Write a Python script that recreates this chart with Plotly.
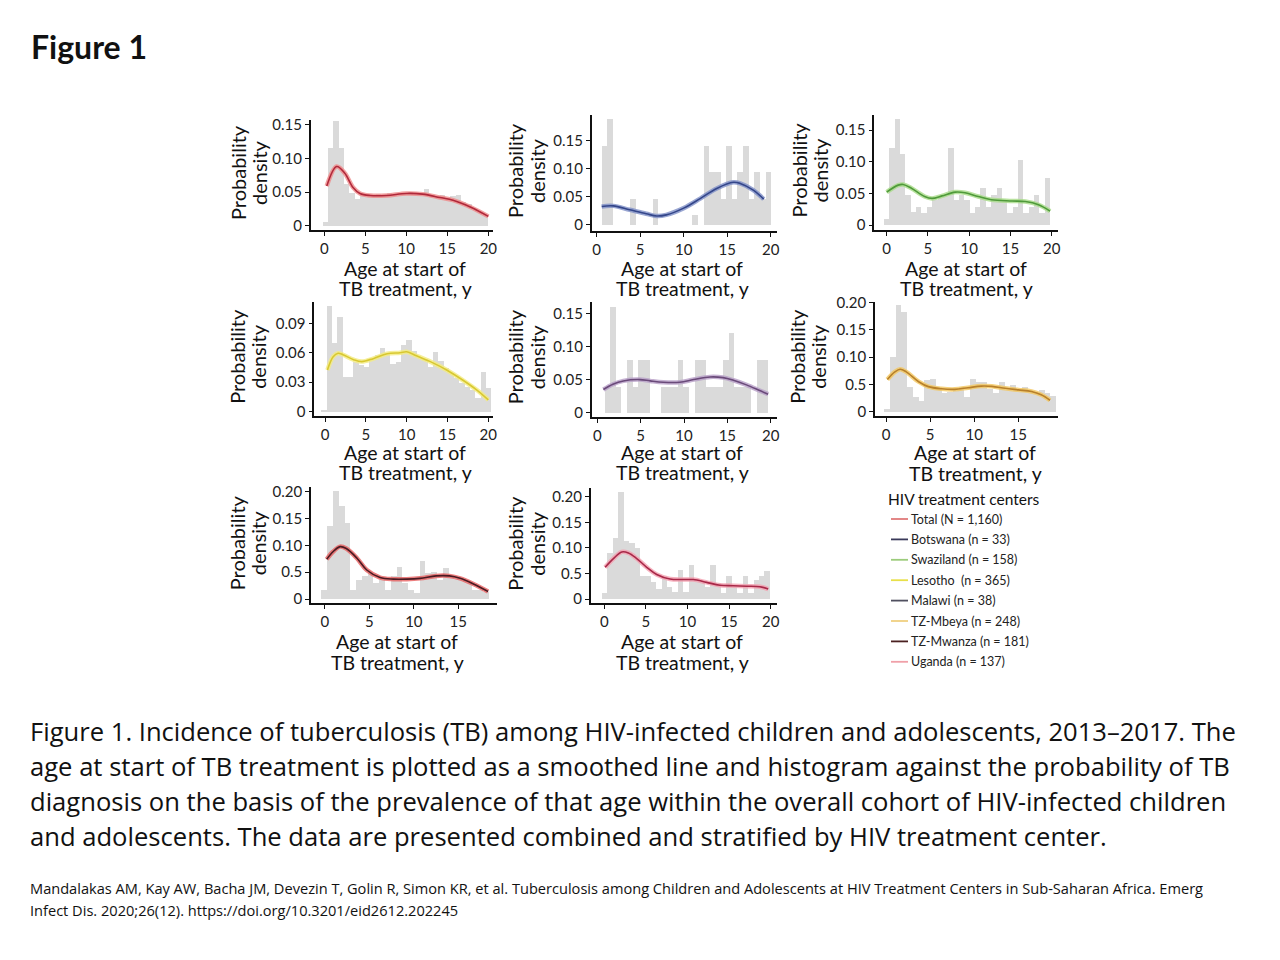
import plotly.graph_objects as go

# ---------------- DATA ----------------
BIN_WIDTH = 0.65

total_bin_start = -0.25
total_hist = [0.006, 0.115, 0.156, 0.115, 0.062, 0.048, 0.040, 0.045, 0.046, 0.045, 0.047,
              0.044, 0.048, 0.046, 0.049, 0.047, 0.050, 0.046, 0.047, 0.054, 0.046, 0.044,
              0.046, 0.041, 0.044, 0.046, 0.036, 0.032, 0.027, 0.020, 0.016]
total_curve_x = [0.3, 1.5, 2.5, 3.5, 4.35, 5.6, 7.6, 10.0, 12.0, 14.1, 15.7, 17.8, 20.0]
total_curve_y = [0.059, 0.088, 0.078, 0.057, 0.048, 0.045, 0.045, 0.048, 0.047, 0.042, 0.038, 0.028, 0.014]

botswana_bin_start = 0.55
botswana_hist = [0.141, 0.188, 0, 0, 0, 0.047, 0, 0, 0, 0.047, 0, 0, 0, 0, 0, 0, 0.018, 0,
                 0.141, 0.094, 0.094, 0.047, 0.141, 0.047, 0.094, 0.141, 0.047, 0.094, 0.047, 0.094]
botswana_curve_x = [0.58, 1.9, 3.8, 5.7, 6.9, 8.0, 10.0, 11.9, 13.8, 15.7, 16.5, 18.0, 19.2]
botswana_curve_y = [0.033, 0.034, 0.027, 0.020, 0.016, 0.018, 0.030, 0.047, 0.065, 0.076, 0.074, 0.062, 0.046]

swaziland_bin_start = -0.3
swaziland_hist = [0.010, 0.121, 0.168, 0.112, 0.048, 0.021, 0.029, 0.019, 0.029, 0.039, 0.044,
                  0.048, 0.121, 0.039, 0.048, 0.039, 0.019, 0.029, 0.058, 0.029, 0.048, 0.058,
                  0.039, 0.019, 0.029, 0.102, 0.019, 0.029, 0.048, 0.019, 0.075]
swaziland_curve_x = [0.0, 1.4, 2.0, 3.0, 4.6, 5.5, 6.7, 8.3, 9.5, 11.1, 12.7, 15.2, 16.8, 18.4, 19.8]
swaziland_curve_y = [0.052, 0.063, 0.064, 0.058, 0.045, 0.042, 0.046, 0.052, 0.051, 0.045, 0.040,
                     0.038, 0.037, 0.032, 0.022]

lesotho_bin_start = -0.4
lesotho_hist = [0.002, 0.108, 0.070, 0.097, 0.036, 0.036, 0.051, 0.048, 0.046, 0.055, 0.058,
                0.065, 0.060, 0.049, 0.051, 0.068, 0.073, 0.062, 0.056, 0.054, 0.046, 0.061,
                0.052, 0.045, 0.040, 0.035, 0.030, 0.025, 0.022, 0.014, 0.041, 0.024]
lesotho_curve_x = [0.3, 1.0, 1.6, 2.2, 3.5, 4.5, 5.9, 7.6, 9.2, 10.0, 11.2, 12.9, 14.9, 16.9, 18.6, 20.0]
lesotho_curve_y = [0.0425, 0.056, 0.0595, 0.058, 0.053, 0.051, 0.054, 0.059, 0.060, 0.061, 0.057,
                   0.051, 0.0425, 0.032, 0.022, 0.012]

malawi_bin_start = 0.8
malawi_hist = [0.04, 0.16, 0.04, 0, 0.08, 0.04, 0.08, 0.08, 0, 0, 0.04, 0.04, 0.04, 0.08, 0.04,
               0, 0.08, 0.08, 0.04, 0.04, 0.04, 0.08, 0.12, 0.04, 0.04, 0.04, 0, 0.08, 0.08]
malawi_curve_x = [0.7, 1.8, 3.0, 4.9, 6.1, 7.6, 9.5, 11.1, 13.0, 14.5, 15.7, 17.2, 18.8, 19.7]
malawi_curve_y = [0.035, 0.043, 0.048, 0.050, 0.048, 0.046, 0.046, 0.050, 0.054, 0.053, 0.049,
                  0.042, 0.033, 0.028]

mbeya_bin_start = -0.2
mbeya_hist = [0.005, 0.100, 0.196, 0.184, 0.046, 0.028, 0.021, 0.058, 0.061, 0.046, 0.034,
              0.037, 0.040, 0.046, 0.028, 0.061, 0.055, 0.055, 0.043, 0.034, 0.055, 0.040,
              0.049, 0.040, 0.046, 0.040, 0.037, 0.040, 0.035, 0.030]
mbeya_curve_x = [0.15, 1.0, 1.6, 2.3, 3.7, 4.8, 6.3, 7.8, 9.3, 10.8, 12.0, 13.5, 15.0, 16.5, 17.6, 18.6]
mbeya_curve_y = [0.059, 0.073, 0.078, 0.073, 0.055, 0.046, 0.042, 0.041, 0.044, 0.047, 0.0465,
                 0.043, 0.040, 0.037, 0.031, 0.021]

mwanza_bin_start = -0.4
mwanza_hist = [0.017, 0.135, 0.200, 0.172, 0.141, 0.017, 0.035, 0.042, 0.050, 0.029, 0.035,
               0.017, 0.042, 0.059, 0.030, 0.017, 0.011, 0.070, 0.048, 0.050, 0.035, 0.057,
               0.040, 0.037, 0.035, 0.030, 0.017, 0.017, 0.012]
mwanza_curve_x = [0.2, 0.9, 1.7, 2.4, 3.6, 4.7, 6.2, 7.7, 9.2, 10.7, 12.5, 14.0, 15.2, 16.7, 18.35]
mwanza_curve_y = [0.074, 0.088, 0.0975, 0.094, 0.076, 0.054, 0.040, 0.037, 0.037, 0.0385, 0.043,
                  0.043, 0.0385, 0.028, 0.014]

uganda_bin_start = -0.3
uganda_hist = [0.011, 0.089, 0.118, 0.208, 0.112, 0.108, 0.099, 0.044, 0.044, 0.033, 0.018,
               0.044, 0.022, 0.014, 0.057, 0.014, 0.066, 0.037, 0.033, 0.022, 0.066, 0.030,
               0.011, 0.044, 0.022, 0.011, 0.044, 0.011, 0.037, 0.044, 0.055]
uganda_curve_x = [0.1, 1.1, 2.1, 2.9, 3.9, 5.1, 6.3, 7.9, 9.5, 10.7, 12.3, 13.9, 15.5, 17.1, 18.7, 19.7]
uganda_curve_y = [0.062, 0.079, 0.092, 0.090, 0.079, 0.062, 0.048, 0.039, 0.038, 0.038, 0.0325,
                  0.027, 0.026, 0.025, 0.024, 0.0195]

legend_labels = ["Total (N = 1,160)", "Botswana (n = 33)", "Swaziland (n = 158)", "Lesotho  (n = 365)",
                 "Malawi (n = 38)", "TZ-Mbeya (n = 248)", "TZ-Mwanza (n = 181)", "Uganda (n = 137)"]
legend_colors = ["#e07a7a", "#3a3a5a", "#9ccc7c", "#e8e04a", "#505060", "#f0d080", "#4a2020", "#f0a0a8"]

# tick labels as printed in the figure
ticks_a_vals = [0, 0.05, 0.10, 0.15]
ticks_a_text = ["0", "0.05", "0.10", "0.15"]
ticks_b_vals = [0, 0.03, 0.06, 0.09]
ticks_b_text = ["0", "0.03", "0.06", "0.09"]
ticks_c_vals = [0, 0.05, 0.10, 0.15, 0.20]
ticks_c_text = ["0", "0.5", "0.10", "0.15", "0.20"]
xticks_20 = [0, 5, 10, 15, 20]
xticks_15 = [0, 5, 10, 15]

# ---------------- LAYOUT HELPERS ----------------
W, H = 1280, 960
def fx(p): return p / W
def fy(p): return 1 - p / H

FONT = "Lato"
CAP_FONT = "Open Sans"
panels = [
    dict(bs=total_bin_start, h=total_hist, cx=total_curve_x, cy=total_curve_y,
         box=(310.7, 493, 120, 230), xr=(-1.66, 20.57), yr=(-0.0062, 0.157),
         yt=(ticks_a_vals, ticks_a_text), xt=xticks_20, line="#b0283a", halo="#f08a8a",
         ytx=(238, 259), xtc=405, xty=(268, 288)),
    dict(bs=botswana_bin_start, h=botswana_hist, cx=botswana_curve_x, cy=botswana_curve_y,
         box=(591.7, 776.7, 115, 231), xr=(-0.57, 20.69), yr=(-0.0107, 0.1957),
         yt=(ticks_a_vals, ticks_a_text), xt=xticks_20, line="#34468a", halo="#8090c8",
         ytx=(515, 537), xtc=682, xty=(268, 288)),
    dict(bs=swaziland_bin_start, h=swaziland_hist, cx=swaziland_curve_x, cy=swaziland_curve_y,
         box=(874.3, 1058.3, 115, 230), xr=(-1.5, 20.8), yr=(-0.0079, 0.1738),
         yt=(ticks_a_vals, ticks_a_text), xt=xticks_20, line="#4f9a3a", halo="#a8dc88",
         ytx=(798, 819), xtc=966, xty=(268, 288)),
    dict(bs=lesotho_bin_start, h=lesotho_hist, cx=lesotho_curve_x, cy=lesotho_curve_y,
         box=(314.3, 493.3, 301.7, 416), xr=(-1.31, 20.61), yr=(-0.0044, 0.112),
         yt=(ticks_b_vals, ticks_b_text), xt=xticks_20, line="#d8c830", halo="#f4ec80",
         ytx=(237, 258), xtc=405, xty=(452, 472)),
    dict(bs=malawi_bin_start, h=malawi_hist, cx=malawi_curve_x, cy=malawi_curve_y,
         box=(591.7, 776.7, 301.7, 416.7), xr=(-0.65, 20.69), yr=(-0.006, 0.1675),
         yt=(ticks_a_vals, ticks_a_text), xt=xticks_20, line="#6a4a7a", halo="#b8a0c8",
         ytx=(515, 537), xtc=682, xty=(452, 472)),
    dict(bs=mbeya_bin_start, h=mbeya_hist, cx=mbeya_curve_x, cy=mbeya_curve_y,
         box=(875, 1058.3, 301.7, 416), xr=(-1.25, 19.54), yr=(-0.0079, 0.2018),
         yt=(ticks_c_vals, ticks_c_text), xt=xticks_15, line="#b8802a", halo="#f4c860",
         ytx=(797, 818), xtc=975, xty=(452, 473)),
    dict(bs=mwanza_bin_start, h=mwanza_hist, cx=mwanza_curve_x, cy=mwanza_curve_y,
         box=(311, 496.7, 487.3, 603.3), xr=(-1.57, 19.32), yr=(-0.008, 0.208),
         yt=(ticks_c_vals, ticks_c_text), xt=xticks_15, line="#4a1a22", halo="#e86060",
         ytx=(237, 258), xtc=397, xty=(641, 662)),
    dict(bs=uganda_bin_start, h=uganda_hist, cx=uganda_curve_x, cy=uganda_curve_y,
         box=(590.7, 776.7, 488.3, 603.3), xr=(-1.63, 20.72), yr=(-0.0084, 0.2164),
         yt=(ticks_c_vals, ticks_c_text), xt=xticks_20, line="#a82848", halo="#f4a0b0",
         ytx=(515, 537), xtc=682, xty=(641, 662)),
]

fig = go.Figure()
annotations = []
shapes = []
layout = {}

for i, p in enumerate(panels, start=1):
    xa = "x" if i == 1 else f"x{i}"
    ya = "y" if i == 1 else f"y{i}"
    centers = [p["bs"] + BIN_WIDTH * (k + 0.5) for k in range(len(p["h"]))]
    fig.add_trace(go.Bar(x=centers, y=p["h"], width=BIN_WIDTH, marker=dict(color="#dadada", line=dict(width=0)),
                         xaxis=xa, yaxis=ya, showlegend=False, hoverinfo="skip"))
    fig.add_trace(go.Scatter(x=p["cx"], y=p["cy"], mode="lines",
                             line=dict(shape="spline", smoothing=1.0, color=p["halo"], width=4.5),
                             opacity=0.8, xaxis=xa, yaxis=ya, showlegend=False, hoverinfo="skip"))
    fig.add_trace(go.Scatter(x=p["cx"], y=p["cy"], mode="lines",
                             line=dict(shape="spline", smoothing=1.0, color=p["line"], width=1.6),
                             xaxis=xa, yaxis=ya, showlegend=False, hoverinfo="skip"))
    l, r, t, b = p["box"]
    axcommon = dict(showline=True, linecolor="#111", linewidth=1.6, ticks="outside", ticklen=4,
                    tickwidth=1.3, tickcolor="#111", showgrid=False, zeroline=False,
                    tickfont=dict(family=FONT, size=15, color="#222"), fixedrange=True, automargin=False)
    layout["xaxis" if i == 1 else f"xaxis{i}"] = dict(
        domain=[fx(l), fx(r)], range=list(p["xr"]), anchor=ya, tickvals=p["xt"],
        ticktext=[str(v) for v in p["xt"]], **axcommon)
    layout["yaxis" if i == 1 else f"yaxis{i}"] = dict(
        domain=[fy(b), fy(t)], range=list(p["yr"]), anchor=xa, tickvals=p["yt"][0],
        ticktext=p["yt"][1], **axcommon)
    yc = (t + b) / 2 - 2
    annotations.append(dict(text="Probability", x=fx(p["ytx"][0]), y=fy(yc), xref="paper", yref="paper",
                            textangle=-90, showarrow=False, xanchor="center", yanchor="middle",
                            font=dict(family=FONT, size=20, color="#111")))
    annotations.append(dict(text="density", x=fx(p["ytx"][1]), y=fy(yc), xref="paper", yref="paper",
                            textangle=-90, showarrow=False, xanchor="center", yanchor="middle",
                            font=dict(family=FONT, size=20, color="#111")))
    annotations.append(dict(text="Age at start of", x=fx(p["xtc"]), y=fy(p["xty"][0]), xref="paper",
                            yref="paper", showarrow=False, xanchor="center", yanchor="middle",
                            font=dict(family=FONT, size=19.5, color="#111")))
    annotations.append(dict(text="TB treatment, y", x=fx(p["xtc"]), y=fy(p["xty"][1]), xref="paper",
                            yref="paper", showarrow=False, xanchor="center", yanchor="middle",
                            font=dict(family=FONT, size=19.5, color="#111")))

# Legend (drawn manually)
annotations.append(dict(text="HIV treatment centers", x=fx(886), y=fy(499), xref="paper", yref="paper",
                        showarrow=False, xanchor="left", yanchor="middle",
                        font=dict(family=FONT, size=15.5, color="#111")))
leg_y0 = 519
leg_dy = 20.4
for k, (lab, col) in enumerate(zip(legend_labels, legend_colors)):
    yy = leg_y0 + k * leg_dy
    shapes.append(dict(type="line", xref="paper", yref="paper", x0=fx(891), x1=fx(908),
                       y0=fy(yy), y1=fy(yy), line=dict(color=col, width=1.8)))
    annotations.append(dict(text=lab, x=fx(909), y=fy(yy), xref="paper", yref="paper", showarrow=False,
                            xanchor="left", yanchor="middle", font=dict(family=FONT, size=12.5, color="#222")))

# Title
annotations.append(dict(text="<b>Figure 1</b>", x=fx(29), y=fy(47), xref="paper", yref="paper",
                        showarrow=False, xanchor="left", yanchor="middle",
                        font=dict(family=FONT, size=32, color="#111")))

caption_lines = [
    "Figure 1. Incidence of tuberculosis (TB) among HIV-infected children and adolescents, 2013–2017. The",
    "age at start of TB treatment is plotted as a smoothed line and histogram against the probability of TB",
    "diagnosis on the basis of the prevalence of that age within the overall cohort of HIV-infected children",
    "and adolescents. The data are presented combined and stratified by HIV treatment center.",
]
for k, line in enumerate(caption_lines):
    annotations.append(dict(text=line, x=fx(28), y=fy(731 + 35.3 * k), xref="paper", yref="paper",
                            showarrow=False, xanchor="left", yanchor="middle",
                            font=dict(family=CAP_FONT, size=25.6, color="#111")))

cite_lines = [
    "Mandalakas AM, Kay AW, Bacha JM, Devezin T, Golin R, Simon KR, et al. Tuberculosis among Children and Adolescents at HIV Treatment Centers in Sub-Saharan Africa. Emerg",
    "Infect Dis. 2020;26(12). https://doi.org/10.3201/eid2612.202245",
]
for k, line in enumerate(cite_lines):
    annotations.append(dict(text=line, x=fx(28), y=fy(888 + 22 * k), xref="paper", yref="paper",
                            showarrow=False, xanchor="left", yanchor="middle",
                            font=dict(family=CAP_FONT, size=14.6, color="#111")))

fig.update_layout(width=W, height=H, margin=dict(l=0, r=0, t=0, b=0, pad=0, autoexpand=False),
                  paper_bgcolor="white", plot_bgcolor="rgba(0,0,0,0)", barmode="overlay", bargap=0,
                  annotations=annotations, shapes=shapes, showlegend=False, **layout)

fig.write_html("out.html", config={"displayModeBar": False},
               post_script="document.body.style.margin='0';")
